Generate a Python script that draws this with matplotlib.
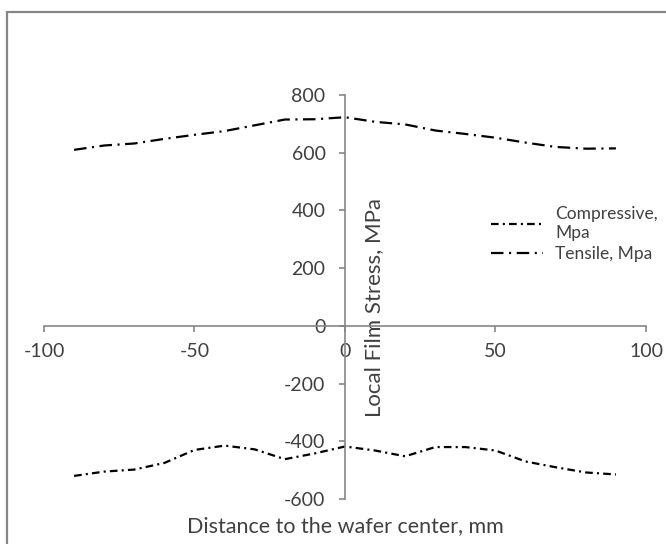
import numpy as np
import matplotlib
matplotlib.use('Agg')
import matplotlib.pyplot as plt
from matplotlib.patches import Rectangle

# distance to wafer center, mm
distance = [-90, -80, -70, -60, -50, -40, -30, -20, -10, 0,
            10, 20, 30, 40, 50, 60, 70, 80, 90]
# local film stress, MPa
compressive = [-520, -505, -498, -475, -430, -415, -428, -462, -442, -418,
               -432, -452, -420, -420, -432, -470, -490, -508, -515]
tensile = [610, 625, 632, 648, 662, 675, 695, 715, 716, 723,
           707, 698, 677, 665, 652, 635, 620, 614, 615]

x_ticks = [-100, -50, 0, 50, 100]
y_ticks = [-600, -400, -200, 0, 200, 400, 600, 800]

plt.rcParams['font.family'] = ['Lato', 'DejaVu Sans']
plt.rcParams['lines.scale_dashes'] = False
plt.rcParams['axes.unicode_minus'] = False

grey = '#868686'
txt = '#404040'

fig = plt.figure(figsize=(6.66, 5.44), dpi=100)
ax = fig.add_axes([44/666, 1-499/544, 602/666, 404/544])

ax.plot(distance, compressive, color='black', lw=1.6,
        linestyle=(0, (5.5, 3, 1.5, 3)), label='Compressive,\nMpa')
ax.plot(distance, tensile, color='black', lw=1.6,
        linestyle=(0, (9, 4, 1.5, 4)), label='Tensile, Mpa')

ax.set_xlim(-100, 100)
ax.set_ylim(-600, 800)
ax.set_xticks(x_ticks)
ax.set_yticks(y_ticks)

ax.spines['left'].set_position(('data', 0))
ax.spines['bottom'].set_position(('data', 0))
ax.spines['top'].set_visible(False)
ax.spines['right'].set_visible(False)
for s in ['left', 'bottom']:
    ax.spines[s].set_color(grey)
    ax.spines[s].set_linewidth(1.2)

ax.tick_params(axis='both', direction='out', length=4, width=1.2,
               color=grey, labelcolor=txt, labelsize=14)
ax.tick_params(axis='x', pad=8)
ax.tick_params(axis='y', pad=10)

ax.set_xlabel('Distance to the wafer center, mm', fontsize=15.5, color=txt,
              va='center')
ax.xaxis.set_label_coords(0.5, -0.066)
ax.set_ylabel('Local Film Stress, MPa', fontsize=16, color=txt,
              va='center', ha='center')
ax.yaxis.set_label_coords(0.548, 0.475)

ax.legend(loc='center left', bbox_to_anchor=(484/666, 1-234/544),
          bbox_transform=fig.transFigure, frameon=False, fontsize=12.5,
          handlelength=3.0, handletextpad=0.7, labelcolor=txt,
          borderaxespad=0, labelspacing=0.3)

fig.patches.append(Rectangle((7/666, -0.1), 1.2, 1-12/544+0.1,
                             transform=fig.transFigure, fill=False,
                             edgecolor=grey, lw=1.6))

fig.savefig('out.png', dpi=100)
